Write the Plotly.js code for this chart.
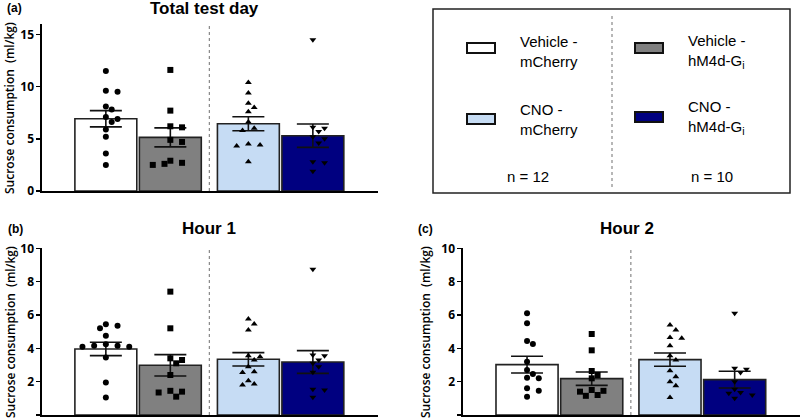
<!DOCTYPE html>
<html>
<head>
<meta charset="utf-8">
<script src="https://cdn.plot.ly/plotly-3.0.1.min.js"></script>
<style>
  html, body { margin: 0; padding: 0; background: #fff; }
  #plot { width: 800px; height: 420px; }
</style>
</head>
<body>
<div id="plot"></div>
<script>
// groups, in bar order
const groupNames = ["Vehicle -<br>mCherry", "Vehicle -<br>hM4d-G<sub>i</sub>", "CNO -<br>mCherry", "CNO -<br>hM4d-G<sub>i</sub>"];
const groupColors = ["#ffffff", "#808080", "#c6dcf4", "#000080"];
const groupSymbols = ["circle", "square", "triangle-up", "triangle-down"];
const groupN = ["n = 12", "n = 10"];

// bar means and SEM
const totalMeans = [6.92, 5.14, 6.44, 5.30];
const totalSem = [0.78, 0.91, 0.67, 1.12];
const hour1Means = [3.96, 2.98, 3.34, 3.18];
const hour1Sem = [0.40, 0.64, 0.40, 0.68];
const hour2Means = [3.02, 2.18, 3.32, 2.12];
const hour2Sem = [0.50, 0.40, 0.40, 0.50];

// individual animals
const totalVehMch = [11.5, 9.6, 9.5, 8.1, 7.8, 7.1, 6.9, 6.6, 5.9, 5.2, 3.6, 2.5];
const totalVehGi = [11.6, 7.7, 6.2, 6.1, 4.9, 4.7, 2.9, 2.7, 2.6, 2.5];
const totalCnoMch = [10.4, 9.4, 8.4, 8.0, 7.6, 6.6, 6.0, 5.8, 4.5, 4.4, 4.3, 2.8];
const totalCnoGi = [14.5, 6.1, 6.0, 5.7, 5.2, 5.0, 4.6, 2.8, 2.7, 1.9];

const hour1VehMch = [5.45, 5.35, 5.2, 4.75, 4.25, 4.15, 4.15, 4.1, 4.1, 3.45, 1.95, 1.05];
const hour1VehGi = [7.4, 5.2, 3.4, 3.3, 3.1, 2.4, 1.45, 1.4, 1.35, 1.1];
const hour1CnoMch = [5.76, 5.46, 5.1, 3.55, 3.5, 3.3, 2.9, 2.6, 2.55, 2.06, 1.86, 1.8];
const hour1CnoGi = [8.74, 3.6, 3.55, 3.3, 3.1, 2.9, 2.56, 1.55, 1.5, 1.06];

const hour2VehMch = [6.1, 5.5, 4.44, 4.26, 3.2, 2.7, 2.46, 2.24, 2.2, 1.6, 1.46, 1.1];
const hour2VehGi = [4.86, 3.88, 2.64, 2.4, 2.2, 1.5, 1.45, 1.4, 1.2, 1.15];
const hour2CnoMch = [5.4, 5.1, 4.65, 4.6, 4.15, 3.55, 3.3, 2.65, 2.3, 2.0, 1.75, 1.05];
const hour2CnoGi = [6.1, 2.8, 2.75, 2.55, 2.0, 1.55, 1.35, 1.3, 1.2, 1.0];

// bar slots: two pairs with a wider gap between them
const groupGap = 0.21;
const barWidth = 0.96;
const xPos = [0, 1, 2 + groupGap, 3 + groupGap];
const divider = (xPos[1] + xPos[2]) / 2;
const xRange = [-0.99, 4.22];

const W = 800, H = 420;
const px = v => v / W;
const py = v => 1 - v / H;

// spread overlapping dots sideways (Prism-like scatter)
function swarm(vals, cx, pxPerX, pxPerY) {
    let d = 6.5;
    let placed = [];
    return vals.map(v => {
        let y = v * pxPerY;
        for (let k = 0; k < 30; k++) {
            let off = (k % 2 ? 1 : -1) * Math.ceil(k / 2) * d * 0.9;
            let hit = placed.some(p => (p[0] - off) ** 2 + (p[1] - y) ** 2 < d * d);
            if (!hit) {
                placed.push([off, y]);
                return cx + off / pxPerX;
            }
        }
        return cx;
    });
}

let traces = [];
function addPanel(means, sems, points, axX, axY, pxPerY) {
    traces.push({
        type: "bar",
        x: xPos,
        y: means,
        width: barWidth,
        xaxis: axX, yaxis: axY,
        marker: { color: groupColors, line: { color: "#222", width: 1.6 } },
        error_y: { type: "data", array: sems, visible: true, color: "#111", thickness: 1.6, width: 16 },
        hoverinfo: "y"
    });
    points.forEach((vals, i) => {
        traces.push({
            type: "scatter",
            mode: "markers",
            x: swarm(vals, xPos[i], 64.5, pxPerY),
            y: vals,
            xaxis: axX, yaxis: axY,
            marker: { symbol: groupSymbols[i], color: "#000", size: 6 },
            hoverinfo: "y"
        });
    });
}

addPanel(totalMeans, totalSem, [totalVehMch, totalVehGi, totalCnoMch, totalCnoGi], "x", "y", 10.45);
addPanel(hour1Means, hour1Sem, [hour1VehMch, hour1VehGi, hour1CnoMch, hour1CnoGi], "x2", "y2", 16.67);
addPanel(hour2Means, hour2Sem, [hour2VehMch, hour2VehGi, hour2CnoMch, hour2CnoGi], "x3", "y3", 16.67);

const tickFont = { family: "Open Sans", size: 12, color: "#000", weight: "bold" };

function xAxis(dom, anchor) {
    return {
        domain: dom, anchor: anchor, range: xRange,
        showticklabels: false, ticks: "", showgrid: false, zeroline: false,
        showline: true, linecolor: "#000", linewidth: 1.6, fixedrange: true
    };
}
function yAxis(dom, anchor, range, dtick) {
    return {
        domain: dom, anchor: anchor, range: range, dtick: dtick, tick0: 0,
        ticks: "outside", ticklen: 4, tickwidth: 1.5, tickcolor: "#000",
        tickfont: tickFont, showgrid: false, zeroline: false,
        showline: true, linecolor: "#000", linewidth: 1.6, fixedrange: true
    };
}

let shapes = [];
// dotted separators inside each panel
[["x", "y domain"], ["x2", "y2 domain"], ["x3", "y3 domain"]].forEach(r => {
    shapes.push({ type: "line", xref: r[0], yref: r[1], x0: divider, x1: divider, y0: 0, y1: 1,
        line: { color: "#888", width: 1.2, dash: "dot" } });
});

// legend box
shapes.push({ type: "rect", xref: "paper", yref: "paper", x0: px(433), x1: px(790), y0: py(193), y1: py(9),
    line: { color: "#222", width: 1.5 } });
shapes.push({ type: "line", xref: "paper", yref: "paper", x0: px(612), x1: px(612), y0: py(187), y1: py(15),
    line: { color: "#888", width: 1.2, dash: "dot" } });
const swatchX = [467, 635, 467, 635];
const swatchY = [48, 48, 119, 117];
const labelY = [51, 51, 119, 117];
for (let i = 0; i < 4; i++) {
    shapes.push({ type: "rect", xref: "paper", yref: "paper",
        x0: px(swatchX[i]), x1: px(swatchX[i] + 28), y0: py(swatchY[i] + 5), y1: py(swatchY[i] - 5),
        fillcolor: groupColors[i], line: { color: "#111", width: 2 } });
}

let annotations = [];
const legendFont = { family: "Liberation Sans", size: 15, color: "#000" };
for (let i = 0; i < 4; i++) {
    annotations.push({ xref: "paper", yref: "paper", x: px(i % 2 ? 686 : 518), y: py(labelY[i]),
        xanchor: "left", yanchor: "middle", align: "left", showarrow: false,
        text: groupNames[i], font: legendFont });
}
annotations.push({ xref: "paper", yref: "paper", x: px(528), y: py(176), xanchor: "center", yanchor: "middle",
    showarrow: false, text: groupN[0], font: legendFont });
annotations.push({ xref: "paper", yref: "paper", x: px(712), y: py(176), xanchor: "center", yanchor: "middle",
    showarrow: false, text: groupN[1], font: legendFont });

// panel titles and letters
const titleFont = { family: "Liberation Sans", size: 17, color: "#000", weight: "bold" };
const letterFont = { family: "Liberation Sans", size: 12, color: "#000", weight: "bold" };
const panelTitles = ["Total test day", "Hour 1", "Hour 2"];
const panelLetters = ["(a)", "(b)", "(c)"];
const titlePos = [[204, 8], [209, 229], [627, 229]];
const letterPos = [[14, 8], [15, 229], [425, 229]];
const yTitlePos = [[10, 108], [10, 332], [425, 332]];
for (let i = 0; i < 3; i++) {
    annotations.push({ xref: "paper", yref: "paper", x: px(titlePos[i][0]), y: py(titlePos[i][1]),
        xanchor: "center", yanchor: "middle", showarrow: false, text: panelTitles[i], font: titleFont });
    annotations.push({ xref: "paper", yref: "paper", x: px(letterPos[i][0]), y: py(letterPos[i][1]),
        xanchor: "center", yanchor: "middle", showarrow: false, text: panelLetters[i], font: letterFont });
    annotations.push({ xref: "paper", yref: "paper", x: px(yTitlePos[i][0]), y: py(yTitlePos[i][1]),
        xanchor: "center", yanchor: "middle", showarrow: false, textangle: -90,
        text: "Sucrose consumption  (ml/kg)",
        font: { family: "Open Sans", size: 12, color: "#000", weight: 600 } });
}

const layout = {
    width: W, height: H,
    margin: { l: 0, r: 0, t: 0, b: 0 },
    paper_bgcolor: "#fff", plot_bgcolor: "rgba(0,0,0,0)",
    showlegend: false,
    xaxis: xAxis([px(42), px(378)], "y"),
    yaxis: yAxis([py(191), py(24)], "x", [0, 16], 5),
    xaxis2: xAxis([px(42), px(378)], "y2"),
    yaxis2: yAxis([py(415), py(248.3)], "x2", [0, 10], 2),
    xaxis3: xAxis([px(463), 1], "y3"),
    yaxis3: yAxis([py(415), py(248.3)], "x3", [0, 10], 2),
    shapes: shapes,
    annotations: annotations
};

Plotly.newPlot("plot", traces, layout, { staticPlot: true });
</script>
</body>
</html>
